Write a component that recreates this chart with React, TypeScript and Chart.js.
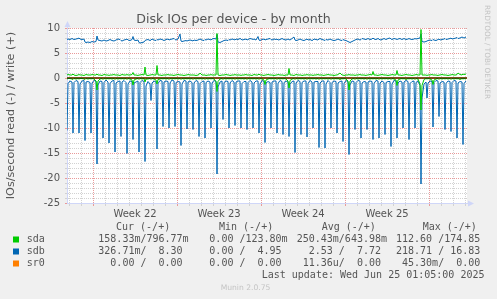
import React, { useEffect, useRef } from 'react';
import { Chart, registerables } from 'chart.js';

Chart.register(...registerables);

// ---------------- data ----------------
const TITLE = 'Disk IOs per device - by month';
const Y_TITLE = 'IOs/second read (-) / write (+)';
const BLOCK_HOURS = 12; // each block of 4 samples covers 12 hours
const SAMPLE_OFFSETS_H = [0, 2, 6, 10]; // sample times inside a block (hours)
const X_MAX_DAYS = 33.333; // graph span (days)
const FIRST_WEEK_START = 2.17; // days from left edge to start of Week 22
const WEEK_LABELS = ['Week 22', 'Week 23', 'Week 24', 'Week 25'];
const Y_MIN = -25;
const Y_MAX = 10;
const Y_LABEL_STEP = 5;

const DEVICES = ['sda', 'sdb', 'sr0'];
const COLORS = ['#00cc00', '#0066b3', '#ff8000'];

// sdb read (negative) – spike every 12h
const SDB_READ = [
  -10.5, -1.1, -0.6, -0.8, -11, -0.9, -0.5, -0.7, -11, -1.2, -0.6, -0.5, -12.5, -0.8, -0.7, -0.9,
  -11, -1.0, -0.5, -0.6, -17.2, -1.4, -0.6, -0.7, -12, -0.9, -0.4, -0.8, -13, -1.1, -0.6, -0.5,
  -14.8, -1.0, -0.7, -0.6, -11.7, -0.8, -0.5, -0.9, -15.1, -1.2, -0.6, -0.7, -12.3, -1.0, -0.8, -0.6,
  -14.8, -0.9, -0.5, -0.7, -16.7, -1.6, -0.7, -1.2, -4.5, -1.0, -0.6, -0.8, -14.2, -1.1, -0.5, -0.6,
  -9.7, -0.8, -0.6, -0.7, -10, -1.0, -0.4, -0.6, -9.7, -0.9, -0.7, -0.8, -13.5, -1.2, -0.5, -0.6,
  -10.2, -0.8, -0.6, -0.9, -10.3, -1.0, -0.5, -0.7, -11.7, -1.1, -0.7, -0.6, -12, -0.9, -0.6, -0.8,
  -10, -1.0, -0.5, -0.7, -19.2, -1.8, -0.8, -0.6, -8.3, -0.9, -0.6, -0.7, -10, -1.0, -0.5, -0.8,
  -9.5, -0.8, -0.6, -0.6, -10, -1.1, -0.7, -0.7, -10.3, -0.9, -0.5, -0.8, -10, -1.0, -0.6, -0.6,
  -11, -1.2, -0.5, -0.7, -12.9, -1.0, -0.7, -0.9, -10, -0.8, -0.6, -0.6, -11, -1.1, -0.5, -0.7,
  -11.3, -0.9, -0.6, -0.8, -11.7, -1.3, -0.7, -0.6, -14.9, -1.0, -0.5, -0.7, -11.3, -0.9, -0.6, -0.6,
  -11.8, -1.1, -0.5, -0.8, -10, -0.8, -0.7, -0.7, -13.9, -1.0, -0.6, -0.6, -14, -1.2, -0.5, -0.9,
  -10, -0.9, -0.6, -0.7, -11, -1.0, -0.7, -0.6, -12.7, -1.1, -0.5, -0.8, -15.3, -1.4, -0.6, -0.7,
  -10.3, -0.9, -0.5, -0.6, -12, -1.0, -0.7, -0.8, -10.3, -0.8, -0.6, -0.7, -12.3, -1.1, -0.5, -0.6,
  -12, -1.0, -0.6, -0.9, -11.3, -0.9, -0.7, -0.7, -13.7, -1.2, -0.5, -0.6, -12, -1.0, -0.6, -0.8,
  -10, -0.8, -0.5, -0.7, -12.3, -1.1, -0.7, -0.6, -10, -0.9, -0.6, -1.5, -21.2, -4.0, -1.2, -0.8,
  -4, -1.0, -0.6, -0.7, -9.8, -0.9, -0.5, -0.6, -7.7, -1.0, -0.7, -0.8, -10.3, -1.1, -0.6, -0.7,
  -10.7, -0.9, -0.5, -0.6, -12, -1.0, -0.7, -0.8, -13.3, -1.1, -0.6,
];

// sdb write (positive)
const SDB_WRITE = [
  7.7, 7.8, 7.7, 7.9, 7.8, 7.7, 7.8, 7.9, 8.0, 7.8, 7.7, 7.8, 7.2, 7.1, 7.2, 7.1, 7.2, 7.3, 7.2, 7.3,
  8.4, 7.6, 7.5, 7.4, 7.5, 7.6, 7.4, 7.5, 7.6, 7.7, 7.5, 7.4, 7.5, 7.6, 7.8, 7.7, 7.5, 7.4, 7.6, 7.7,
  7.8, 7.6, 7.5, 7.7, 8.3, 7.6, 7.5, 7.6, 7.1, 7.0, 7.1, 7.2, 7.5, 7.6, 7.7, 7.5, 7.6, 7.8, 7.6, 7.5,
  7.7, 7.6, 7.8, 7.7, 7.6, 7.5, 7.7, 7.8, 7.6, 7.7, 7.8, 7.9, 7.7, 7.6, 7.8, 8.8, 7.4, 7.3, 7.4, 7.5,
  7.4, 7.5, 7.6, 7.5, 7.4, 7.6, 7.5, 7.6, 7.7, 7.8, 7.6, 7.5, 7.7, 7.6, 7.8, 7.7, 7.6, 7.8, 7.9, 7.8,
  8.7, 7.2, 7.1, 7.3, 7.4, 7.5, 7.6, 7.5, 7.7, 7.6, 7.8, 7.7, 7.6, 7.8, 7.7, 7.9, 7.8, 7.6, 7.7, 7.8,
  7.6, 7.7, 7.9, 7.8, 7.7, 7.8, 7.6, 8.3, 7.6, 7.5, 7.7, 7.8, 7.6, 7.7, 7.8, 7.9, 7.7, 7.6, 7.8, 7.7,
  7.8, 7.6, 7.7, 7.9, 7.8, 7.7, 7.6, 7.8, 7.7, 7.6, 7.9, 8.2, 7.6, 7.5, 7.6, 7.8, 7.7, 7.6, 7.5, 7.7,
  7.8, 7.6, 7.7, 7.5, 7.6, 7.8, 7.7, 7.6, 7.8, 7.9, 7.7, 7.6, 7.5, 7.7, 7.6, 7.8, 7.7, 7.6, 7.5, 7.6,
  7.7, 7.8, 7.6, 7.5, 7.7, 7.6, 7.5, 7.3, 7.2, 7.1, 7.3, 7.5, 7.6, 7.7, 7.8, 7.6, 7.7, 7.9, 7.8, 7.7,
  7.8, 7.9, 7.7, 7.8, 8.0, 7.8, 7.7, 7.9, 7.8, 7.6, 7.7, 7.9, 7.8, 7.7, 7.9, 8.0, 7.8, 7.7, 7.9, 7.8,
  7.7, 7.8, 7.9, 7.7, 7.8, 7.9, 7.7, 7.8, 7.9, 7.8, 7.7, 7.8, 7.9, 7.8, 7.9, 8.0, 8.8, 7.3, 7.2, 7.3,
  7.4, 7.5, 7.6, 7.5, 7.7, 7.6, 7.5, 7.7, 7.8, 7.6, 7.7, 7.8, 7.9, 7.7, 7.8, 7.9, 8.0, 7.8, 7.9, 8.0,
  8.1, 7.9, 8.0, 8.2, 8.1, 8.0, 8.2,
];

// sda write (positive)
const SDA_WRITE = [
  0.6, 0.7, 0.6, 0.6, 0.8, 0.6, 0.5, 0.6, 0.7, 0.6, 0.6, 0.5, 0.6, 0.7, 0.6, 0.6, 0.6, 0.7, 0.6, 0.6,
  0.8, 0.6, 0.6, 0.5, 0.6, 0.7, 0.6, 0.6, 0.5, 0.6, 0.6, 0.7, 0.6, 0.6, 0.6, 0.5, 0.6, 0.7, 0.6, 0.6,
  0.7, 0.6, 0.6, 0.7, 1.1, 0.6, 0.6, 0.5, 0.6, 0.6, 0.7, 0.6, 2.2, 0.6, 0.5, 0.6, 0.6, 0.7, 0.6, 0.6,
  2.5, 0.6, 0.6, 0.5, 0.6, 0.6, 0.6, 0.7, 0.6, 0.6, 0.6, 0.5, 0.6, 0.6, 0.7, 0.6, 0.6, 0.6, 0.5, 0.6,
  0.6, 0.7, 0.6, 0.6, 0.6, 0.6, 0.5, 0.6, 0.7, 1.0, 0.6, 0.6, 0.6, 0.5, 0.6, 0.6, 0.7, 0.6, 0.6, 0.6,
  8.9, 0.6, 0.5, 0.6, 0.6, 0.6, 0.7, 0.6, 0.6, 0.5, 0.6, 0.6, 0.7, 0.6, 0.6, 0.6, 0.5, 0.6, 0.6, 0.7,
  0.6, 0.6, 0.6, 0.5, 0.6, 0.7, 0.6, 0.6, 0.8, 0.6, 0.6, 0.5, 0.6, 0.6, 0.7, 0.6, 0.6, 0.6, 0.5, 0.6,
  0.6, 0.7, 0.6, 0.6, 0.6, 0.5, 0.6, 0.6, 1.9, 0.6, 0.6, 0.5, 0.6, 0.7, 0.6, 0.6, 0.6, 0.5, 0.6, 0.6,
  0.7, 0.6, 0.6, 0.6, 0.5, 0.6, 0.6, 0.7, 0.6, 0.6, 0.6, 0.5, 0.6, 0.6, 0.7, 0.6, 0.6, 0.6, 0.5, 0.6,
  0.6, 0.7, 1.0, 0.6, 0.6, 0.5, 0.6, 0.6, 0.7, 0.6, 0.6, 0.6, 0.5, 0.6, 0.6, 0.7, 0.6, 0.6, 0.6, 0.5,
  0.6, 0.6, 0.7, 0.6, 1.3, 0.6, 0.6, 0.5, 0.6, 0.6, 0.7, 0.6, 0.6, 0.6, 0.5, 0.6, 0.6, 0.7, 0.6, 0.6,
  1.5, 0.6, 0.6, 0.5, 0.6, 0.6, 0.7, 0.6, 0.6, 0.6, 0.5, 0.6, 0.6, 0.7, 0.6, 0.6, 9.7, 0.6, 0.6, 0.6,
  0.5, 0.6, 0.6, 0.7, 0.6, 0.6, 0.6, 0.5, 0.6, 0.6, 0.7, 0.6, 0.6, 0.6, 0.5, 0.6, 0.6, 0.7, 0.6, 0.6,
  0.7, 1.0, 0.7, 0.6, 0.8, 0.7, 0.8,
];

// sda read (negative)
const SDA_READ = [
  -0.2, -0.1, -0.1, -0.2, -0.3, -0.1, -0.2, -0.1, -0.2, -0.1, -0.1, -0.2, -0.3, -0.1, -0.2, -0.1, -0.2, -0.1, -0.2, -0.6,
  -2.4, -0.6, -0.2, -0.1, -0.3, -0.1, -0.2, -0.1, -0.2, -0.1, -0.2, -0.1, -0.3, -0.1, -0.2, -0.1, -0.2, -0.1, -0.2, -0.1,
  -0.3, -0.1, -0.2, -0.4, -1.4, -0.4, -0.2, -0.1, -0.3, -0.1, -0.2, -0.1, -0.8, -0.2, -0.2, -0.1, -0.3, -0.1, -0.2, -0.4,
  -1.2, -0.3, -0.2, -0.1, -0.2, -0.1, -0.2, -0.1, -0.3, -0.1, -0.2, -0.1, -0.2, -0.1, -0.2, -0.1, -0.3, -0.1, -0.2, -0.1,
  -0.2, -0.1, -0.2, -0.1, -0.3, -0.1, -0.2, -0.1, -0.2, -0.1, -0.2, -0.1, -0.3, -0.1, -0.2, -0.1, -0.2, -0.1, -0.2, -0.7,
  -2.7, -0.7, -0.2, -0.1, -0.3, -0.1, -0.2, -0.1, -0.2, -0.1, -0.2, -0.1, -0.3, -0.1, -0.2, -0.1, -0.2, -0.1, -0.2, -0.1,
  -0.3, -0.1, -0.2, -0.1, -0.2, -0.1, -0.2, -0.1, -0.3, -0.1, -0.2, -0.4, -1.3, -0.4, -0.2, -0.1, -0.2, -0.1, -0.2, -0.1,
  -0.3, -0.1, -0.2, -0.1, -0.2, -0.1, -0.2, -0.6, -2.0, -0.5, -0.2, -0.1, -0.3, -0.1, -0.2, -0.1, -0.2, -0.1, -0.2, -0.1,
  -0.3, -0.1, -0.2, -0.1, -0.2, -0.1, -0.2, -0.1, -0.3, -0.1, -0.2, -0.1, -0.2, -0.1, -0.2, -0.1, -0.3, -0.1, -0.2, -0.1,
  -0.2, -0.1, -0.3, -0.1, -0.2, -0.1, -0.2, -0.6, -2.4, -0.6, -0.2, -0.1, -0.3, -0.1, -0.2, -0.1, -0.2, -0.1, -0.2, -0.1,
  -0.3, -0.1, -0.2, -0.1, -0.2, -0.1, -0.2, -0.1, -0.3, -0.1, -0.2, -0.1, -0.2, -0.1, -0.2, -0.1, -0.3, -0.1, -0.2, -0.4,
  -1.5, -0.4, -0.2, -0.1, -0.2, -0.1, -0.3, -0.1, -0.2, -0.1, -0.2, -0.1, -0.3, -0.1, -0.2, -1.2, -6.4, -1.5, -0.3, -0.1,
  -0.2, -0.1, -0.2, -0.4, -1.3, -0.4, -0.2, -0.1, -0.3, -0.1, -0.2, -0.1, -0.2, -0.1, -0.2, -0.1, -0.3, -0.1, -0.2, -0.1,
  -0.2, -0.1, -0.3, -0.1, -0.2, -0.1, -0.2,
];

// sr0: flat zero over the whole period
const SR0_TIMES = [0, X_MAX_DAYS];
const SR0_READ = [0, 0];
const SR0_WRITE = [0, 0];
const ZERO_RULE = [0, 0];

// legend table
const LEGEND_HEADERS = ['Cur (-/+)', 'Min (-/+)', 'Avg (-/+)', 'Max (-/+)'];
const CUR = ['158.33m/796.77m', '326.71m/  8.30', '  0.00 /  0.00'];
const MIN = ['  0.00 /123.80m', '  0.00 /  4.95', '  0.00 /  0.00'];
const AVG = ['250.43m/643.98m', '  2.53 /  7.72', ' 11.36u/  0.00'];
const MAX = ['112.60 /174.85', '218.71 / 16.83', ' 45.30m/  0.00'];
const LAST_UPDATE = 'Last update: Wed Jun 25 01:05:00 2025';
const FOOTER = 'Munin 2.0.75';
const WATERMARK = 'RRDTOOL / TOBI OETIKER';

// ---------------- styles ----------------
const TEXT = '#555555';
const FAINT = '#c4c4c4';
const AXIS = '#cfd6f8';
const MAJOR_GRID = '#e99a9a';
const MINOR_GRID = '#d2d2d2';
const SANS = '"DejaVu Sans", sans-serif';
const MONO = '"DejaVu Sans Mono", monospace';

// sample timestamps (days from the left edge)
const times = SDB_WRITE.map(
  (_, i) => (Math.floor(i / 4) * BLOCK_HOURS + SAMPLE_OFFSETS_H[i % 4]) / 24
);
const pts = (arr: number[], t: number[] = times) => arr.map((y, i) => ({ x: t[i], y }));

const weekPhase = (v: number) => {
  let p = (v - FIRST_WEEK_START) % 7;
  if (p < 0) p += 7;
  return p;
};
const isWeekStart = (v: number) => {
  const p = weekPhase(v);
  return p < 0.01 || p > 6.99;
};
const isWeekLabel = (v: number) => Math.abs(weekPhase(v) - 3.5) < 0.01;

const decorPlugin = {
  id: 'muninDecor',
  beforeDraw(chart: any) {
    const { ctx, chartArea: a, width, height } = chart;
    ctx.save();
    ctx.fillStyle = '#f0f0f0';
    ctx.fillRect(0, 0, width, height);
    ctx.fillStyle = '#ffffff';
    ctx.fillRect(a.left, a.top, a.right - a.left, a.bottom - a.top);
    ctx.restore();
  },
  afterDraw(chart: any) {
    const { ctx, chartArea: a } = chart;
    ctx.save();
    // axis arrows
    const ax = Math.round(a.left) + 0.5;
    const by = Math.round(a.bottom) + 0.5;
    ctx.strokeStyle = AXIS;
    ctx.fillStyle = AXIS;
    ctx.lineWidth = 1;
    ctx.beginPath();
    ctx.moveTo(ax, a.top);
    ctx.lineTo(ax, a.top - 3);
    ctx.moveTo(a.right, by);
    ctx.lineTo(a.right + 3, by);
    ctx.stroke();
    ctx.beginPath();
    ctx.moveTo(ax - 3, a.top - 1);
    ctx.lineTo(ax + 3, a.top - 1);
    ctx.lineTo(ax, a.top - 7);
    ctx.closePath();
    ctx.fill();
    ctx.beginPath();
    ctx.moveTo(a.right + 1, by - 3);
    ctx.lineTo(a.right + 1, by + 3);
    ctx.lineTo(a.right + 7, by);
    ctx.closePath();
    ctx.fill();

    // watermark
    ctx.save();
    ctx.translate(487, 5);
    ctx.rotate(Math.PI / 2);
    ctx.font = `7.3px ${SANS}`;
    ctx.fillStyle = FAINT;
    ctx.textBaseline = 'middle';
    ctx.textAlign = 'left';
    ctx.fillText(WATERMARK, 0, 0);
    ctx.restore();

    // legend table
    ctx.font = `10px ${MONO}`;
    ctx.textBaseline = 'middle';
    ctx.textAlign = 'left';
    ctx.fillStyle = TEXT;
    const headerX = [116, 219, 321.7, 422.7];
    LEGEND_HEADERS.forEach((h, i) => ctx.fillText(h, headerX[i], 227.5));
    const colX = [98.3, 197.3, 296.7, 396];
    const cols = [CUR, MIN, AVG, MAX];
    DEVICES.forEach((d, r) => {
      const y = 239.5 + r * 12;
      ctx.fillStyle = COLORS[r];
      ctx.fillRect(13, y - 3, 6, 6);
      ctx.fillStyle = TEXT;
      ctx.fillText(d, 26.7, y);
      cols.forEach((c, ci) => ctx.fillText(c[r], colX[ci], y));
    });
    ctx.fillText(LAST_UPDATE, 261.7, 275.5);

    ctx.font = `7.6px ${SANS}`;
    ctx.fillStyle = FAINT;
    ctx.textAlign = 'center';
    ctx.fillText(FOOTER, 245.5, 288);
    ctx.restore();
  },
};

export default function App() {
  const ref = useRef<HTMLCanvasElement | null>(null);

  useEffect(() => {
    document.body.style.margin = '0';
    const canvas = ref.current;
    if (!canvas) return;

    const line = (label: string, data: any[], color: string, order: number) => ({
      label,
      data,
      borderColor: color,
      backgroundColor: color,
      borderWidth: 1,
      pointRadius: 0,
      tension: 0,
      fill: false,
      order,
    });

    const chart = new Chart(canvas, {
      type: 'line',
      data: {
        datasets: [
          line('zero', pts(ZERO_RULE, SR0_TIMES), '#000000', 0),
          line('sda read', pts(SDA_READ), COLORS[0], 1),
          line('sda write', pts(SDA_WRITE), COLORS[0], 2),
          line('sdb write', pts(SDB_WRITE), COLORS[1], 3),
          line('sdb read', pts(SDB_READ), COLORS[1], 4),
          line('sr0 read', pts(SR0_READ, SR0_TIMES), COLORS[2], 5),
          line('sr0 write', pts(SR0_WRITE, SR0_TIMES), COLORS[2], 6),
        ],
      },
      options: {
        animation: false,
        responsive: false,
        devicePixelRatio: 1,
        layout: { padding: { top: 0, right: 30, bottom: 0, left: 0 } },
        plugins: {
          legend: { display: false },
          tooltip: { enabled: false },
          title: {
            display: true,
            text: TITLE,
            color: TEXT,
            font: { family: SANS, size: 12.6, weight: 'normal' },
            padding: { top: 12, bottom: 0.9 },
          },
        },
        scales: {
          x: {
            type: 'linear',
            min: 0,
            max: X_MAX_DAYS,
            afterBuildTicks: (scale: any) => {
              const ticks: any[] = [];
              for (let n = -3; n <= 32; n++) {
                const d = FIRST_WEEK_START + n;
                if (d >= 0 && d <= X_MAX_DAYS) ticks.push({ value: d });
              }
              WEEK_LABELS.forEach((_, i) => ticks.push({ value: FIRST_WEEK_START + 7 * i + 3.5 }));
              ticks.sort((p, q) => p.value - q.value);
              scale.ticks = ticks;
            },
            afterFit: (scale: any) => {
              scale.height = 96;
            },
            ticks: {
              autoSkip: false,
              maxRotation: 0,
              padding: 2,
              color: TEXT,
              font: { family: SANS, size: 10 },
              callback: (v: any) => {
                if (!isWeekLabel(v)) return '';
                const i = Math.round((v - FIRST_WEEK_START - 3.5) / 7);
                return WEEK_LABELS[i] ?? '';
              },
            },
            grid: {
              color: (c: any) => {
                const v = c.tick ? c.tick.value : 0;
                if (isWeekLabel(v)) return 'rgba(0,0,0,0)';
                return isWeekStart(v) ? MAJOR_GRID : MINOR_GRID;
              },
              tickLength: 3,
              lineWidth: 1,
            },
            border: { color: AXIS, dash: [1, 1] },
          },
          y: {
            type: 'linear',
            min: Y_MIN,
            max: Y_MAX,
            afterBuildTicks: (scale: any) => {
              const ticks: any[] = [];
              for (let v = Y_MIN; v <= Y_MAX; v++) ticks.push({ value: v });
              scale.ticks = ticks;
            },
            afterFit: (scale: any) => {
              scale.width = 67;
            },
            ticks: {
              autoSkip: false,
              padding: 5,
              color: TEXT,
              font: { family: SANS, size: 10 },
              callback: (v: any) => (v % Y_LABEL_STEP === 0 ? String(v) : ''),
            },
            grid: {
              color: (c: any) => {
                const v = c.tick ? c.tick.value : 0;
                return v % Y_LABEL_STEP === 0 ? MAJOR_GRID : MINOR_GRID;
              },
              tickLength: 2,
              lineWidth: 1,
            },
            border: { color: AXIS, dash: [1, 1] },
            title: {
              display: true,
              text: Y_TITLE,
              color: TEXT,
              font: { family: SANS, size: 11.2 },
              padding: { top: 4, bottom: 0 },
            },
          },
        },
      } as any,
      plugins: [decorPlugin],
    });

    return () => chart.destroy();
  }, []);

  return (
    <div style={{ width: 497, height: 299 }}>
      <canvas ref={ref} width={497} height={299} style={{ display: 'block' }} />
    </div>
  );
}
